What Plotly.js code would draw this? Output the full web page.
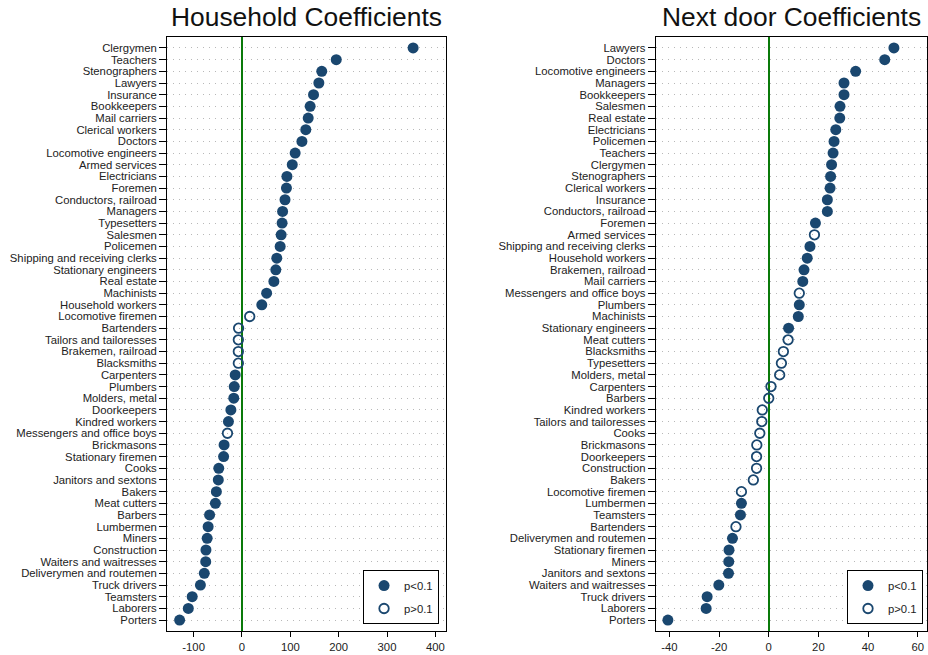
<!DOCTYPE html>
<html>
<head>
<meta charset="utf-8">
<script src="https://cdn.plot.ly/plotly-3.0.1.min.js"></script>
<style>
  html, body { margin: 0; padding: 0; background: #fff; }
  #chart { width: 928px; height: 655px; }
</style>
</head>
<body>
<div id="chart"></div>
<script>
// Household panel: occupations, coefficients, significance (true = p<0.1)
const householdNames = [
  "Clergymen", "Teachers", "Stenographers", "Lawyers", "Insurance", "Bookkeepers",
  "Mail carriers", "Clerical workers", "Doctors", "Locomotive engineers", "Armed services",
  "Electricians", "Foremen", "Conductors, railroad", "Managers", "Typesetters", "Salesmen",
  "Policemen", "Shipping and receiving clerks", "Stationary engineers", "Real estate",
  "Machinists", "Household workers", "Locomotive firemen", "Bartenders",
  "Tailors and tailoresses", "Brakemen, railroad", "Blacksmiths", "Carpenters", "Plumbers",
  "Molders, metal", "Doorkeepers", "Kindred workers", "Messengers and office boys",
  "Brickmasons", "Stationary firemen", "Cooks", "Janitors and sextons", "Bakers",
  "Meat cutters", "Barbers", "Lumbermen", "Miners", "Construction", "Waiters and waitresses",
  "Deliverymen and routemen", "Truck drivers", "Teamsters", "Laborers", "Porters"
];
const householdCoef = [
  354, 195, 165, 159, 148, 141,
  137, 132, 124, 110, 104,
  93, 92, 89, 84, 83, 81,
  79, 72, 70, 66,
  51, 41, 16, -7,
  -7.5, -7.5, -7.5, -14, -16,
  -17, -23, -28, -30,
  -37, -38, -48, -49, -53,
  -55, -67, -70, -72, -74.5, -75,
  -78, -86, -103, -111, -129
];
const householdSig = [
  true, true, true, true, true, true,
  true, true, true, true, true,
  true, true, true, true, true, true,
  true, true, true, true,
  true, true, false, false,
  false, false, false, true, true,
  true, true, true, false,
  true, true, true, true, true,
  true, true, true, true, true, true,
  true, true, true, true, true
];
const householdTicks = [-100, 0, 100, 200, 300, 400];

// Next door panel
const nextdoorNames = [
  "Lawyers", "Doctors", "Locomotive engineers", "Managers", "Bookkeepers", "Salesmen",
  "Real estate", "Electricians", "Policemen", "Teachers", "Clergymen", "Stenographers",
  "Clerical workers", "Insurance", "Conductors, railroad", "Foremen", "Armed services",
  "Shipping and receiving clerks", "Household workers", "Brakemen, railroad", "Mail carriers",
  "Messengers and office boys", "Plumbers", "Machinists", "Stationary engineers",
  "Meat cutters", "Blacksmiths", "Typesetters", "Molders, metal", "Carpenters", "Barbers",
  "Kindred workers", "Tailors and tailoresses", "Cooks", "Brickmasons", "Doorkeepers",
  "Construction", "Bakers", "Locomotive firemen", "Lumbermen", "Teamsters", "Bartenders",
  "Deliverymen and routemen", "Stationary firemen", "Miners", "Janitors and sextons",
  "Waiters and waitresses", "Truck drivers", "Laborers", "Porters"
];
const nextdoorCoef = [
  50.4, 46.7, 35.0, 30.3, 30.3, 28.7,
  28.6, 27.0, 26.3, 25.9, 25.3, 24.9,
  24.7, 23.6, 23.6, 18.8, 18.4,
  16.6, 15.5, 14.2, 13.7,
  12.3, 12.3, 11.9, 8.0,
  7.8, 5.9, 5.1, 4.4, 0.9, 0.0,
  -2.6, -2.8, -3.6, -4.8, -4.9,
  -4.9, -6.2, -11.0, -11.0, -11.4, -13.2,
  -14.6, -16.0, -16.1, -16.2,
  -20.1, -24.8, -25.2, -40.6
];
const nextdoorSig = [
  true, true, true, true, true, true,
  true, true, true, true, true, true,
  true, true, true, true, false,
  true, true, true, true,
  false, true, true, true,
  false, false, false, false, false, false,
  false, false, false, false, false,
  false, false, false, true, true, false,
  true, true, true, true,
  true, true, true, true
];
const nextdoorTicks = [-40, -20, 0, 20, 40, 60];

const legendLabels = ["p<0.1", "p>0.1"];

const NAVY = "#1a476f";
const FONT = "Liberation Sans, Arial, Helvetica, sans-serif";

function pick(names, coef, sig, want) {
  const x = [], y = [];
  names.forEach((n, i) => { if (sig[i] === want) { x.push(coef[i]); y.push(n); } });
  return { x, y };
}

function panelTraces(names, coef, sig, xa, ya, legendId) {
  const filled = pick(names, coef, sig, true);
  const open = pick(names, coef, sig, false);
  return [
    {
      type: "scatter", mode: "markers", x: filled.x, y: filled.y,
      xaxis: xa, yaxis: ya, name: legendLabels[0], legend: legendId, legendgroup: legendId + "a",
      marker: { symbol: "circle", size: 11, color: NAVY, line: { width: 0 } },
      hoverinfo: "x+y"
    },
    {
      type: "scatter", mode: "markers", x: open.x, y: open.y,
      xaxis: xa, yaxis: ya, name: legendLabels[1], legend: legendId, legendgroup: legendId + "b",
      marker: { symbol: "circle-open", size: 9.5, color: NAVY, line: { width: 1.8, color: NAVY } },
      hoverinfo: "x+y"
    }
  ];
}

const traces = [
  ...panelTraces(householdNames, householdCoef, householdSig, "x", "y", "legend"),
  ...panelTraces(nextdoorNames, nextdoorCoef, nextdoorSig, "x2", "y2", "legend2")
];

const yDomain = [0.0366, 0.9435];
const leftDomain = [0.1800, 0.4806];
const rightDomain = [0.7066, 0.9986];

function xAxis(domain, range, tickvals, anchor) {
  return {
    domain, range, anchor, tickmode: "array", tickvals,
    // plain hyphen for negative tick labels
    ticktext: tickvals.map(v => String(v)),
    ticks: "outside", ticklen: 5, tickwidth: 1, tickcolor: "#000",
    showline: true, linecolor: "#000", linewidth: 1, mirror: true,
    showgrid: false,
    zeroline: true, zerolinecolor: "#0a7a0a", zerolinewidth: 1.5,
    tickfont: { family: FONT, size: 11.3, color: "#222" },
    fixedrange: true
  };
}

function yAxis(names, anchor) {
  return {
    domain: yDomain, anchor, type: "category", categoryarray: names, categoryorder: "array",
    range: [names.length - 1 + 0.94, -0.94],
    tickmode: "linear", tick0: 0, dtick: 1,
    ticks: "outside", ticklen: 7, tickwidth: 1, tickcolor: "#000",
    showline: true, linecolor: "#000", linewidth: 1, mirror: true,
    showgrid: true, gridcolor: "#b8b8b8", gridwidth: 1, griddash: "1px,5px",
    zeroline: false,
    tickfont: { family: FONT, size: 11.3, color: "#222" },
    fixedrange: true
  };
}

function legendBox(xRight) {
  return {
    x: xRight, y: 0.0473, xanchor: "right", yanchor: "bottom",
    bgcolor: "#fff", bordercolor: "#000", borderwidth: 1,
    font: { family: FONT, size: 11.3, color: "#222" },
    traceorder: "grouped", tracegroupgap: 4,
    itemclick: false, itemdoubleclick: false
  };
}

const layout = {
  width: 928, height: 655,
  margin: { l: 0, r: 0, t: 0, b: 0 },
  paper_bgcolor: "#fff", plot_bgcolor: "#fff",
  font: { family: FONT, color: "#222" },
  hovermode: "closest",
  xaxis: xAxis(leftDomain, [-155, 422], householdTicks, "y"),
  yaxis: yAxis(householdNames, "x"),
  xaxis2: xAxis(rightDomain, [-45.5, 63.6], nextdoorTicks, "y2"),
  yaxis2: yAxis(nextdoorNames, "x2"),
  legend: legendBox(0.4731),
  legend2: legendBox(0.9946),
  annotations: [
    {
      text: "Household Coefficients", xref: "paper", yref: "paper",
      x: (leftDomain[0] + leftDomain[1]) / 2, y: 0.974, xanchor: "center", yanchor: "middle",
      showarrow: false, font: { family: FONT, size: 26.4, color: "#111" }
    },
    {
      text: "Next door Coefficients", xref: "paper", yref: "paper",
      x: (rightDomain[0] + rightDomain[1]) / 2, y: 0.974, xanchor: "center", yanchor: "middle",
      showarrow: false, font: { family: FONT, size: 26.4, color: "#111" }
    }
  ]
};

Plotly.newPlot("chart", traces, layout, { displayModeBar: false });
</script>
</body>
</html>
